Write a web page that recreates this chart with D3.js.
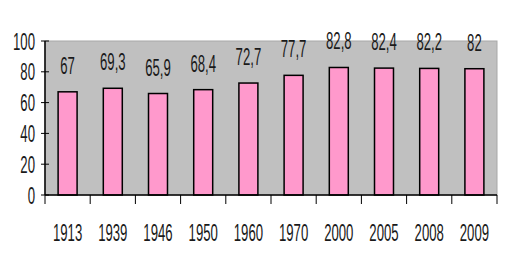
<!DOCTYPE html>
<meta charset="utf-8">
<style>
body { margin: 0; background: #fff; }
svg { display: block; }
.lbl { font-family: "Liberation Sans", Arial, sans-serif; font-size: 23.5px; fill: #1a1a1a; }
</style>
<body>
<div id="chart"></div>
<script src="https://d3js.org/d3.v7.min.js"></script>
<script>
var years = ["1913", "1939", "1946", "1950", "1960", "1970", "2000", "2005", "2008", "2009"];
var values = [67, 69.3, 65.9, 68.4, 72.7, 77.7, 82.8, 82.4, 82.2, 82];
var yTicks = [0, 20, 40, 60, 80, 100];

var W = 522, H = 274,
    margin = {top: 41, right: 25, bottom: 79, left: 45},
    width = W - margin.left - margin.right,
    height = H - margin.top - margin.bottom,
    sx = 0.56; // condensed look of the original font

var svg = d3.select("#chart").append("svg")
    .attr("width", W).attr("height", H)
  .append("g")
    .attr("transform", "translate(" + margin.left + "," + margin.top + ")");

var x = d3.scaleBand().domain(years).range([0, width]).paddingInner(0.58).paddingOuter(0.29);
var y = d3.scaleLinear().domain([0, 100]).range([height, 0]);

svg.append("rect")
    .attr("width", width).attr("height", height)
    .attr("fill", "#c0c0c0").attr("stroke", "#a8a8a8");

svg.selectAll(".bar")
    .data(values)
  .enter().append("rect")
    .attr("class", "bar")
    .attr("x", function(d, i) { return x(years[i]); })
    .attr("y", function(d) { return y(d); })
    .attr("width", x.bandwidth())
    .attr("height", function(d) { return height - y(d); })
    .attr("fill", "#ff99cc")
    .attr("stroke", "#000")
    .attr("stroke-width", 1.5);

function fmt(d) { return String(d).replace(".", ","); }

svg.selectAll(".val")
    .data(values)
  .enter().append("text")
    .attr("class", "lbl")
    .attr("text-anchor", "middle")
    .attr("transform", function(d, i) {
      return "translate(" + (x(years[i]) + x.bandwidth() / 2) + "," + (y(d) - 18) + ") scale(" + sx + ",1)";
    })
    .text(fmt);

// x axis: tick marks sit on band edges, labels centred in bands
var xa = svg.append("g").attr("transform", "translate(0," + height + ")");
xa.append("line").attr("x1", 0).attr("x2", width).attr("stroke", "#000").attr("stroke-width", 1.5);
var step = x.step();
xa.selectAll(".tk")
    .data(d3.range(years.length + 1))
  .enter().append("line")
    .attr("x1", function(i) { return i * step; })
    .attr("x2", function(i) { return i * step; })
    .attr("y1", 0).attr("y2", 9)
    .attr("stroke", "#000");
xa.selectAll(".yl")
    .data(years)
  .enter().append("text")
    .attr("class", "lbl")
    .attr("text-anchor", "middle")
    .attr("transform", function(d) {
      return "translate(" + (x(d) + x.bandwidth() / 2) + ",46) scale(" + sx + ",1)";
    })
    .text(function(d) { return d; });

var ya = svg.append("g");
ya.append("line").attr("y1", 0).attr("y2", height).attr("stroke", "#000").attr("stroke-width", 1.5);
ya.selectAll(".tk")
    .data(yTicks)
  .enter().append("line")
    .attr("x1", -4).attr("x2", 4)
    .attr("y1", function(d) { return y(d); })
    .attr("y2", function(d) { return y(d); })
    .attr("stroke", "#000");
ya.selectAll(".yt")
    .data(yTicks)
  .enter().append("text")
    .attr("class", "lbl")
    .attr("text-anchor", "end")
    .attr("transform", function(d) {
      return "translate(-10," + (y(d) + 8.5) + ") scale(" + sx + ",1)";
    })
    .text(function(d) { return d; });
</script>
</body>
